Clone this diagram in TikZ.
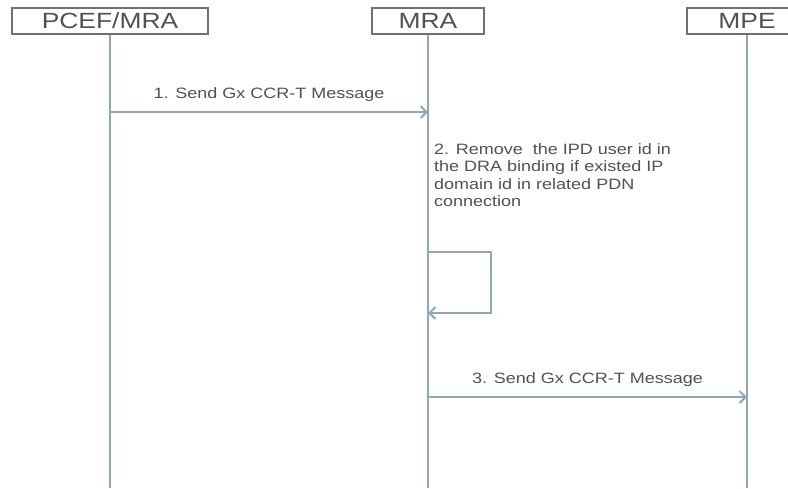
\documentclass[tikz,border=0pt]{standalone}
\usepackage{fontspec}
\setmainfont{Liberation Sans}[FakeStretch=1.2]
\usetikzlibrary{arrows,arrows.meta}
\definecolor{lifegray}{RGB}{143,168,181}
\definecolor{boxgray}{RGB}{112,112,112}
\definecolor{txtgray}{RGB}{80,80,88}

\begin{document}
\begin{tikzpicture}[x=1pt, y=-1pt, >={Straight Barb[length=6pt,width=12pt]},
    every node/.style={text=txtgray},
    entity/.style={draw=boxgray, line width=1.2pt, fill=white, minimum height=26pt, inner sep=0pt, font=\fontsize{22}{26}\selectfont},
    life/.style={draw=lifegray, line width=2.4pt},
    msg/.style={draw=lifegray, line width=2pt, ->},
    lbl/.style={font=\fontsize{15}{17.5}\selectfont, inner sep=0pt}]
            \clip (0,0) rectangle (788,488);
            \useasboundingbox (0,0) rectangle (788,488);
            \node[entity, minimum width=196pt] (pcef) at (110,21) {PCEF/MRA};
            \node[entity, minimum width=112pt] (mra) at (428,21) {MRA};
            \node[entity, minimum width=120pt] (mpe) at (747,21) {MPE};
            \coordinate (pcefend) at (110,488);
            \coordinate (mraend) at (428,488);
            \coordinate (mpeend) at (747,488);
            \draw[life] (pcef) -- (pcefend);
            \draw[life] (mra) -- (mraend);
            \draw[life] (mpe) -- (mpeend);

            % step 1
            \coordinate (s1a) at (110,112);
            \coordinate (s1b) at (428,112);
            \draw[msg] (s1a) -- node[lbl, above=9pt] (l1) {1. Send Gx CCR-T Message} (s1b);

            % step 2
            \node[lbl, anchor=north west, align=left] (l2) at (434,143) {2. Remove\ \ the IPD user id in\\the DRA binding if existed IP\\domain id in related PDN\\connection};
            \coordinate (s2a) at (428,252);
            \coordinate (s2b) at (428,313);
            \draw[msg] (s2a) -- (491,252) -- (491,313) -- (s2b);

            % step 3
            \coordinate (s3a) at (428,397);
            \coordinate (s3b) at (747,397);
            \draw[msg] (s3a) -- node[lbl, above=9pt] (l3) {3. Send Gx CCR-T Message} (s3b);
\end{tikzpicture}
\end{document}
